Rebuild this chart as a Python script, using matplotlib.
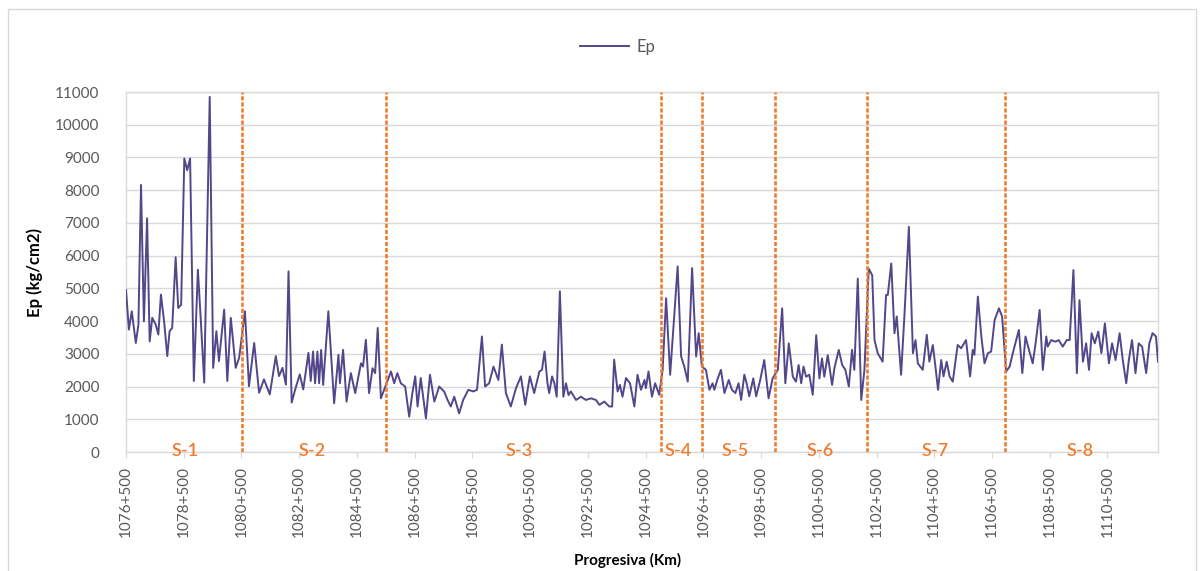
import numpy as np
import matplotlib
matplotlib.use('Agg')
import matplotlib.pyplot as plt
from matplotlib.patches import Rectangle

# progresiva (km) y modulo Ep (kg/cm2)
progresiva_km = [
    1076.50, 1076.60, 1076.70, 1076.84, 1076.93, 1077.02, 1077.12, 1077.23, 1077.32, 1077.41,
    1077.53, 1077.62, 1077.71, 1077.82, 1077.93, 1078.01, 1078.10, 1078.22, 1078.31, 1078.41,
    1078.52, 1078.62, 1078.72, 1078.85, 1078.99, 1079.10, 1079.21, 1079.40, 1079.52, 1079.63,
    1079.72, 1079.90, 1080.01, 1080.13, 1080.30, 1080.42, 1080.62, 1080.76, 1080.94, 1081.11,
    1081.28, 1081.48, 1081.69, 1081.80, 1081.92, 1082.04, 1082.13, 1082.24, 1082.36, 1082.52,
    1082.64, 1082.82, 1082.90,
    1082.98, 1083.05, 1083.13, 1083.19, 1083.26, 1083.33, 1083.51, 1083.71, 1083.86, 1083.91,
    1084.02, 1084.14, 1084.29, 1084.44, 1084.64, 1084.71, 1084.81, 1084.92, 1085.04, 1085.13,
    1085.22, 1085.33, 1085.44, 1085.68, 1085.79, 1085.90, 1086.02, 1086.17, 1086.31, 1086.42,
    1086.52, 1086.60, 1086.71, 1086.89, 1087.03, 1087.18, 1087.35, 1087.52, 1087.64, 1087.75,
    1087.87, 1088.04, 1088.18, 1088.36, 1088.53, 1088.66, 1088.83, 1088.94, 1089.08, 1089.23,
    1089.40, 1089.52,
    1089.66, 1089.83, 1090.01, 1090.18, 1090.33, 1090.49, 1090.64, 1090.82, 1090.91, 1091.00,
    1091.10, 1091.16, 1091.26, 1091.34, 1091.42, 1091.53, 1091.65, 1091.74, 1091.83, 1091.91,
    1092.09, 1092.26, 1092.43, 1092.61, 1092.78, 1092.90, 1093.07, 1093.24, 1093.34, 1093.41,
    1093.53, 1093.61, 1093.70, 1093.82, 1093.96, 1094.11, 1094.22, 1094.34, 1094.46, 1094.51,
    1094.60, 1094.72, 1094.83, 1094.97, 1095.09, 1095.21, 1095.35, 1095.61, 1095.73, 1095.84,
    1095.96, 1096.11, 1096.25, 1096.34,
    1096.45, 1096.59, 1096.71, 1096.82, 1096.88, 1097.00, 1097.11, 1097.23, 1097.38, 1097.49,
    1097.61, 1097.72, 1097.81, 1097.92, 1098.00, 1098.09, 1098.23, 1098.33, 1098.47, 1098.61,
    1098.76, 1098.90, 1099.08, 1099.23, 1099.34, 1099.46, 1099.60, 1099.71, 1099.80, 1099.89,
    1099.97, 1100.06, 1100.17, 1100.29, 1100.41, 1100.52, 1100.61, 1100.69, 1100.81, 1100.96,
    1101.04, 1101.19, 1101.31, 1101.42, 1101.54, 1101.65, 1101.73, 1101.85, 1101.97, 1102.08,
    1102.23, 1102.35,
    1102.43, 1102.54, 1102.71, 1102.83, 1102.89, 1103.01, 1103.12, 1103.20, 1103.35, 1103.47,
    1103.62, 1103.76, 1103.85, 1103.93, 1104.10, 1104.24, 1104.33, 1104.45, 1104.54, 1104.63,
    1104.74, 1104.82, 1104.93, 1105.03, 1105.14, 1105.31, 1105.43, 1105.60, 1105.74, 1105.83,
    1105.89, 1106.01, 1106.13, 1106.24, 1106.36, 1106.47, 1106.59, 1106.74, 1106.85, 1106.99,
    1107.11, 1107.22, 1107.34, 1107.43, 1107.55, 1107.66, 1107.78, 1107.91, 1108.01, 1108.15,
    1108.26, 1108.38, 1108.43, 1108.55, 1108.70, 1108.81, 1108.95, 1109.09, 1109.19, 1109.32,
    1109.44, 1109.53, 1109.65, 1109.76, 1109.86, 1109.95, 1110.06, 1110.18, 1110.29, 1110.41,
    1110.55, 1110.66, 1110.78, 1110.92, 1111.03, 1111.15, 1111.24, 1111.35, 1111.47, 1111.58,
    1111.70, 1111.84, 1111.95, 1112.06, 1112.18, 1112.25,
]
ep = [
    4950, 3740, 4300, 3330, 3890, 8160, 3990, 7140, 3380, 4100,
    3890, 3590, 4810, 3990, 2930, 3690, 3790, 5950, 4400, 4500,
    8970, 8610, 8970, 2170, 5570, 3890, 2120, 10850, 2570, 3690,
    2780, 4350, 2170, 4100, 2570, 2880, 4300, 2010, 3330, 1810,
    2220, 1760, 2930, 2320, 2570, 2060, 5520, 1510, 1910, 2370,
    1910, 3030, 2170,
    3070, 2100, 3070, 2100, 3120, 2050, 4300, 1490, 2970, 2100,
    3120, 1540, 2410, 1800, 2710, 2610, 3430, 1800, 2560, 2410,
    3790, 1640, 1900, 2460, 2100, 2410, 2100, 2000, 1080, 1800,
    2310, 1390, 2260, 1030, 2360, 1540, 2000, 1850, 1590, 1390,
    1690, 1180, 1590, 1900, 1850, 1900, 3530, 2000, 2100, 2610,
    2200, 3280,
    1800, 1390, 1950, 2310, 1440, 2310, 1800, 2460, 2510, 3070,
    2100, 1800, 2310, 2100, 1690, 4910, 1690, 2100, 1740, 1850,
    1590, 1690, 1590, 1640, 1590, 1440, 1540, 1390, 1390, 2820,
    1850, 2050, 1690, 2260, 2100, 1390, 2360, 1900, 2200, 1950,
    2460, 1690, 2100, 1750, 2510, 4700, 2360, 5670, 2920, 2610,
    2150, 5620, 2920, 3630,
    2610, 2510, 1900, 2100, 1900, 2250, 2510, 1800, 2200, 1900,
    1800, 2100, 1590, 2360, 2100, 1700, 2250, 1700, 2200, 2810,
    1640, 2250, 2510, 4390, 2100, 3320, 2300, 2150, 2660, 2100,
    2610, 2300, 2360, 1750, 3570, 2250, 2860, 2300, 2960, 2050,
    2560, 3120, 2660, 2510, 2000, 3120, 2510, 5300, 1590, 2510,
    5600, 5400,
    3420, 3020, 2760, 4800, 4800, 5760, 3630, 4140, 2360, 4240,
    6880, 3020, 3420, 2710, 2510, 3580, 2760, 3270, 2610, 1900,
    2810, 2310, 2760, 2310, 2150, 3270, 3170, 3420, 2310, 3120,
    2970, 4750, 3530, 2710, 3020, 3070, 4030, 4390, 4140, 2460,
    2610, 3020, 3420, 3730, 2410, 3530, 3120, 2710, 3320, 4340,
    2510, 3530, 3220, 3420, 3370, 3420, 3220, 3420, 3420, 5560,
    2410, 4640, 2760, 3320, 2510, 3630, 3320, 3680, 3020, 3930,
    2710, 3320, 2810, 3630, 2810, 2100, 2810, 3420, 2410, 3320,
    3220, 2410, 3320, 3630, 3530, 2760,
]

# limites de sectores y etiquetas
cortes_km = [1080.53, 1085.52, 1095.03, 1096.46, 1098.98, 1102.18, 1106.96]
tramos = ['S-1', 'S-2', 'S-3', 'S-4', 'S-5', 'S-6', 'S-7', 'S-8']
tramos_km = [1078.56, 1082.95, 1090.12, 1095.63, 1097.61, 1100.56, 1104.54, 1109.55]
ticks_km = list(range(1076, 1111, 2))

ORANGE = '#ED7D31'
PURPLE = '#54468A'
GRID = '#D9D9D9'
TXT = '#595959'

plt.rcParams['font.family'] = ['Lato', 'DejaVu Sans']

fig = plt.figure(figsize=(12.04, 5.71), dpi=100)
ax = fig.add_axes([126/1204, 1 - 452/571, (1158-126)/1204, (452-92)/571])

ax.plot(progresiva_km, ep, color=PURPLE, lw=1.4, label='Ep', zorder=3,
        solid_joinstyle='round')

for c in cortes_km:
    ax.axvline(c, color=ORANGE, lw=1.9, ls=(0, (1.6, 0.7)), zorder=4)

for s, k in zip(tramos, tramos_km):
    ax.text(k, 30, s, color=ORANGE, fontsize=13, fontweight='semibold',
            ha='center', va='center', clip_on=False, zorder=5)

ax.set_xlim(1076.5, 1112.25)
ax.set_ylim(0, 11000)
ax.set_yticks(np.arange(0, 11001, 1000))
ax.set_xticks([k + 0.5 for k in ticks_km])
ax.set_xticklabels(['{}+500'.format(k) for k in ticks_km], rotation=90)
ax.grid(axis='y', color=GRID, lw=1)
ax.set_axisbelow(True)
for sp in ax.spines.values():
    sp.set_color(GRID)
    sp.set_linewidth(1)

ax.tick_params(axis='y', length=0, pad=19, labelsize=11, labelcolor=TXT)
ax.tick_params(axis='x', length=4, color=GRID, pad=6, labelsize=11, labelcolor=TXT)

ax.set_xlabel('Progresiva (Km)', fontsize=11, fontweight='bold', color='black',
              va='center')
ax.xaxis.set_label_coords((628-126)/1032, -(560-452)/360)
ax.set_ylabel('Ep (kg/cm2)', fontsize=12, fontweight='bold', color='black',
              va='center')
ax.yaxis.set_label_coords((35-126)/1032, 0.5)

leg = ax.legend(loc='center', bbox_to_anchor=((618-126)/1032, (452-47)/360),
                frameon=False, fontsize=12, handlelength=2.9, handletextpad=0.5)
for t in leg.get_texts():
    t.set_color(TXT)

fig.patches.append(Rectangle((8/1204, -0.05), (1196-8)/1204, 1.05 - 9/571,
                             transform=fig.transFigure, fill=False,
                             edgecolor=GRID, lw=1))

fig.savefig('out.png', dpi=100)
